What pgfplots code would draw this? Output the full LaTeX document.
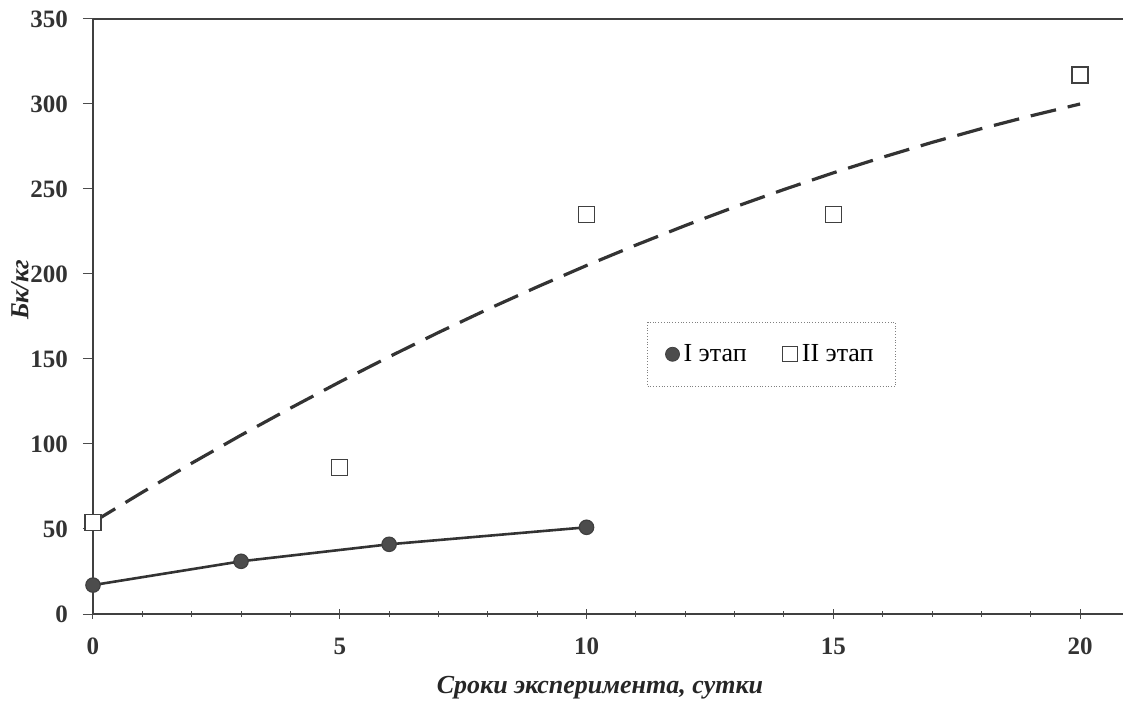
\documentclass[border=0pt]{standalone}
\usepackage{fontspec}
\setmainfont{Liberation Serif}
\usepackage{pgfplots}
\pgfplotsset{compat=1.18}
\begin{document}
\begin{tikzpicture}
\useasboundingbox (-46.5pt,-43.5pt) rectangle (515pt,307pt);
\begin{axis}[
  scale only axis,
  width=515pt, height=297.5pt,
  xmin=0, xmax=20.87, ymin=0, ymax=350,
  axis line style={draw=black!75, line width=0.6pt},
  axis x line*=bottom, axis y line*=left,
  xtick={0,5,10,15,20}, minor xtick={1,2,3,4,6,7,8,9,11,12,13,14,16,17,18,19},
  ytick={0,50,100,150,200,250,300,350},
  xtick align=center, ytick align=outside,
  tick style={black!70, line width=0.5pt},
  major tick length=5pt, minor tick length=3pt,
  /pgf/number format/assume math mode=true,
  tick label style={font=\fontsize{12.5}{14}\selectfont\bfseries, text=black!80},
  xticklabel style={yshift=-6pt},
  yticklabel style={xshift=-4pt},
  clip=false,
  legend columns=2,
  legend style={at={(0.538,0.491)}, anchor=north west, draw=black!50, densely dotted, line width=0.4pt,
    font=\fontsize{13}{15}\selectfont, inner xsep=9pt, inner ysep=9pt,
    /tikz/every even column/.append style={column sep=16pt}},
  legend cell align=left,
]
\draw[black!75, line width=0.6pt] (axis cs:0,350) -- (axis cs:20.87,350);
\addlegendimage{only marks, mark=*, mark size=3.5pt, mark options={solid, fill=black!70, draw=black!75}}
\addlegendentry{I этап}
\addlegendimage{only marks, mark=square, mark size=3.8pt, mark options={solid, draw=black!75, line width=0.6pt}}
\addlegendentry{II этап}
% trend (dashed) for II stage
\addplot[forget plot, black!80, line width=1.6pt, dash pattern=on 13pt off 6pt] coordinates {
(0,54) (1,71.6) (2,88.7) (3,105.2) (4,121.1) (5,136.5) (6,151.3) (7,165.6) (8,179.3) (9,192.4)
(10,205) (11,217.0) (12,228.5) (13,239.4) (14,249.7) (15,259.5) (16,268.7) (17,277.4) (18,285.5) (19,293.0) (20,300)
};
% I stage
\addplot[forget plot, black!80, line width=1.3pt, mark=*, mark size=3.6pt, mark options={fill=black!70, draw=black!75, line width=0.6pt}] coordinates {
(0,17) (3,31) (6,41) (10,51)
};
% II stage points
\addplot[forget plot, only marks, mark=square*, mark size=4pt, mark options={fill=white, draw=black!75, line width=0.6pt}] coordinates {
(0,54) (5,86) (10,235) (15,235) (20,317)
};
\end{axis}
\node[rotate=90, font=\fontsize{13}{15}\selectfont\bfseries\itshape, text=black!85] at (-36.5pt,162pt) {Бк/кг};
\node[font=\fontsize{13}{15}\selectfont\bfseries\itshape, text=black!85] at (253.5pt,-37pt) {Сроки эксперимента, сутки};
\end{tikzpicture}
\end{document}
